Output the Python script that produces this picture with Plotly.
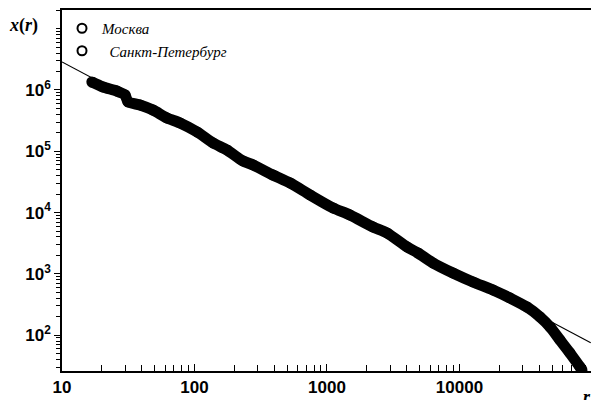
import plotly.graph_objects as go

# Rank-size data (Санкт-Петербург)
rank = [16.8, 20.4, 26.0, 29.9, 31.5, 38.8, 48.6, 62.0, 77.8, 104.5, 138, 176, 232, 277,
        391, 526, 745, 1110, 1490, 2225, 2840, 4020, 4860, 6310, 8930, 12650, 17900,
        24050, 32300, 40500, 48200, 57300, 68200, 81200, 84100]
size = [1.35e6, 1.12e6, 9.6e5, 8.3e5, 6.4e5, 5.7e5, 4.7e5, 3.5e5, 2.9e5, 2.07e5, 1.37e5,
        1.05e5, 6.95e4, 5.98e4, 4.1e4, 3.04e4, 1.94e4, 1.19e4, 9140, 5820, 4650, 2750,
        2190, 1510, 1035, 738, 546, 404, 288, 198, 136, 83.6, 51.3, 30.3, 27]

# Power-law fit line endpoints
fit_x = [10, 98000]
fit_y = [2.87e6, 75]

xticks = [10, 100, 1000, 10000]
xticktext = ["10", "100", "1000", "10000"]
yticks = [1e2, 1e3, 1e4, 1e5, 1e6]
yticktext = ["10<sup>2</sup>", "10<sup>3</sup>", "10<sup>4</sup>", "10<sup>5</sup>", "10<sup>6</sup>"]

legend_names = ["Москва", "&nbsp;&nbsp;Санкт-Петербург"]

fig = go.Figure()

# legend entries (open circles)
for nm in legend_names:
    fig.add_trace(go.Scatter(x=[None], y=[None], mode="markers", name=nm,
                             marker=dict(symbol="circle-open", size=9, color="black",
                                         line=dict(width=2, color="black"))))

# St. Petersburg data: dense band of points
fig.add_trace(go.Scatter(x=rank, y=size, mode="lines+markers", showlegend=False,
                         line=dict(color="black", width=11, shape="spline", smoothing=0.7),
                         marker=dict(symbol="circle", size=11, color="black"),
                         hoverinfo="skip"))

fig.add_trace(go.Scatter(x=fit_x, y=fit_y, mode="lines", showlegend=False,
                         line=dict(color="black", width=1.2)))

tickfont = dict(family="Liberation Sans", size=17, color="black", weight="bold")

fig.update_layout(
    width=591, height=400,
    margin=dict(l=62, r=0, t=10, b=29),
    plot_bgcolor="white", paper_bgcolor="white",
    showlegend=True,
    legend=dict(x=0.0, y=(371 - 12) / 361, xanchor="left", yanchor="top",
                bgcolor="rgba(0,0,0,0)",
                font=dict(family="Liberation Serif", size=15, color="black", style="italic"),
                itemwidth=30, tracegroupgap=0),
    xaxis=dict(type="log", range=[1, 4.993], tickvals=xticks, ticktext=xticktext,
               ticks="inside", ticklen=7, tickwidth=1.3, tickcolor="black",
               showline=True, linecolor="black", linewidth=1.6, mirror=True,
               showgrid=False, zeroline=False, tickfont=tickfont,
               minor=dict(ticks="inside", ticklen=6, tickwidth=1.2, tickcolor="black",
                          dtick="D1", showgrid=False)),
    yaxis=dict(type="log", range=[1.415, 7.305], tickvals=yticks, ticktext=yticktext,
               ticks="outside", ticklen=6, tickwidth=1.3, tickcolor="black",
               showline=True, linecolor="black", linewidth=1.6, mirror=False,
               showgrid=False, zeroline=False, tickfont=tickfont,
               minor=dict(ticks="outside", ticklen=4, tickwidth=1, tickcolor="black",
                          dtick="D1", showgrid=False)),
    annotations=[
        dict(text="<b><i>x</i>(<i>r</i>)</b>", x=(23 - 62) / 529, y=(371 - 25) / 361,
             xref="paper", yref="paper", xanchor="center", yanchor="middle",
             showarrow=False, font=dict(family="Liberation Serif", size=18, color="black")),
        dict(text="<b><i>r</i></b>", x=(587 - 62) / 529, y=(371 - 397) / 361,
             xref="paper", yref="paper", xanchor="center", yanchor="middle",
             showarrow=False, font=dict(family="Liberation Serif", size=18, color="black")),
    ],
)

fig.write_html("out.html")
